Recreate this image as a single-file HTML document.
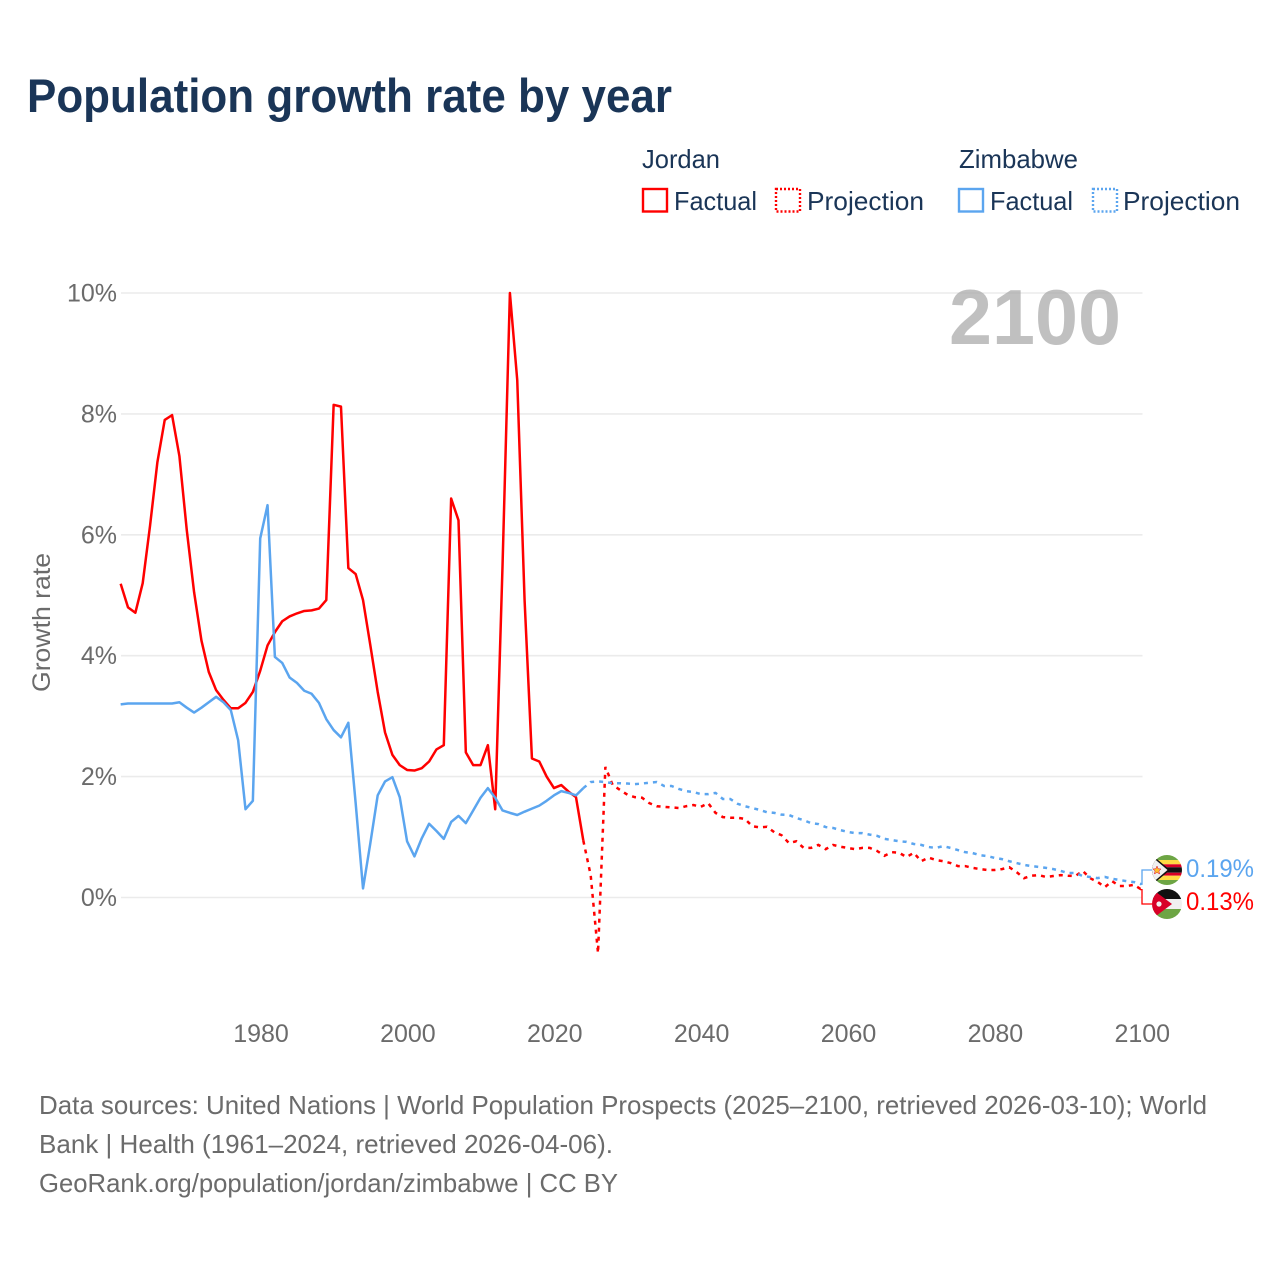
<!DOCTYPE html>
<html lang="en">
<head>
<meta charset="utf-8">
<title>Population growth rate by year</title>
<style>
  html, body { margin: 0; padding: 0; background: #ffffff; }
  #chart { display: block; width: 1280px; height: 1280px; font-family: "Liberation Sans", sans-serif; }
</style>
</head>
<body>
<svg id="chart" xmlns="http://www.w3.org/2000/svg" width="1280" height="1280" viewBox="0 0 1280 1280">
  <defs>
    <clipPath id="clip-zw"><circle cx="1167" cy="870" r="15"/></clipPath>
    <clipPath id="clip-jo"><circle cx="1167" cy="904" r="15"/></clipPath>
  </defs>
  <rect width="1280" height="1280" fill="#ffffff"/>

  <text x="27" y="112" font-size="47" font-weight="700" fill="#1a3557" textLength="645" lengthAdjust="spacingAndGlyphs">Population growth rate by year</text>

  <g font-size="26" fill="#1a3557">
    <text x="642" y="168" textLength="78" lengthAdjust="spacingAndGlyphs">Jordan</text>
    <text x="959" y="168" textLength="119" lengthAdjust="spacingAndGlyphs">Zimbabwe</text>
    <rect x="643" y="189" width="24" height="22.500" fill="none" stroke="#ff0000" stroke-width="2.400"/>
    <text x="674" y="210" textLength="83" lengthAdjust="spacingAndGlyphs">Factual</text>
    <rect x="776" y="189" width="24" height="22.500" fill="none" stroke="#ff0000" stroke-width="2.400" stroke-dasharray="2 2"/>
    <text x="807" y="210" textLength="117" lengthAdjust="spacingAndGlyphs">Projection</text>
    <rect x="959" y="189" width="24" height="22.500" fill="none" stroke="#5ba5ef" stroke-width="2.400"/>
    <text x="990" y="210" textLength="83" lengthAdjust="spacingAndGlyphs">Factual</text>
    <rect x="1093" y="189" width="24" height="22.500" fill="none" stroke="#5ba5ef" stroke-width="2.400" stroke-dasharray="2 2"/>
    <text x="1123" y="210" textLength="117" lengthAdjust="spacingAndGlyphs">Projection</text>
  </g>

  <g id="grid"></g>
  <text x="949" y="344" font-size="78" font-weight="700" fill="#a8a8a8" fill-opacity="0.72" textLength="172" lengthAdjust="spacingAndGlyphs">2100</text>
  <g id="y-ticks"></g>
  <g id="x-ticks"></g>
  <text transform="translate(50,692) rotate(-90)" font-size="25" fill="#6b6b6b" textLength="139" lengthAdjust="spacingAndGlyphs">Growth rate</text>

  <g id="series"></g>
  <g id="connectors"></g>

  <g clip-path="url(#clip-zw)">
    <rect x="1152" y="855" width="30" height="30" fill="#ffffff"/>
    <rect x="1152" y="855" width="30" height="5" fill="#6da544"/>
    <rect x="1152" y="860" width="30" height="4.300" fill="#ffda44"/>
    <rect x="1152" y="864.300" width="30" height="3" fill="#d80027"/>
    <rect x="1152" y="867.300" width="30" height="5.400" fill="#111111"/>
    <rect x="1152" y="872.700" width="30" height="3" fill="#d80027"/>
    <rect x="1152" y="875.700" width="30" height="4.300" fill="#ffda44"/>
    <rect x="1152" y="880" width="30" height="5" fill="#6da544"/>
    <polygon points="1152,855 1152,885 1170,870" fill="#111111"/>
    <polygon points="1150,855 1150,885 1167.500,870" fill="#f0f0f0"/>
    <polygon points="1157,866 1158.200,868.800 1161,869 1158.900,871 1159.600,874 1157,872.400 1154.400,874 1155.100,871 1153,869 1155.800,868.800" fill="#ffc02e" stroke="#d80027" stroke-width="0.500"/>
  </g>
  <g clip-path="url(#clip-jo)">
    <rect x="1152" y="889" width="30" height="10" fill="#111111"/>
    <rect x="1152" y="899" width="30" height="10" fill="#f0f0f0"/>
    <rect x="1152" y="909" width="30" height="10" fill="#6da544"/>
    <polygon points="1152,889 1152,919 1172,904" fill="#d80027"/>
    <circle cx="1159" cy="904" r="2.600" fill="#f0f0f0"/>
  </g>

  <g id="end-labels"></g>

  <g font-size="26" fill="#6b6b6b">
    <text x="39" y="1114" textLength="1168" lengthAdjust="spacingAndGlyphs">Data sources: United Nations | World Population Prospects (2025–2100, retrieved 2026-03-10); World</text>
    <text x="39" y="1153" textLength="574" lengthAdjust="spacingAndGlyphs">Bank | Health (1961–2024, retrieved 2026-04-06).</text>
    <text x="39" y="1192" textLength="579" lengthAdjust="spacingAndGlyphs">GeoRank.org/population/jordan/zimbabwe | CC BY</text>
  </g>
</svg>

<script>
const factualYears = [1961,1962,1963,1964,1965,1966,1967,1968,1969,1970,1971,1972,1973,1974,1975,1976,1977,1978,1979,1980,1981,1982,1983,1984,1985,1986,1987,1988,1989,1990,1991,1992,1993,1994,1995,1996,1997,1998,1999,2000,2001,2002,2003,2004,2005,2006,2007,2008,2009,2010,2011,2012,2013,2014,2015,2016,2017,2018,2019,2020,2021,2022,2023,2024];
const projectionYears = [2024,2025,2026,2027,2028,2029,2030,2031,2032,2033,2034,2035,2036,2037,2038,2039,2040,2041,2042,2043,2044,2045,2046,2047,2048,2049,2050,2051,2052,2053,2054,2055,2056,2057,2058,2059,2060,2061,2062,2063,2064,2065,2066,2067,2068,2069,2070,2071,2072,2073,2074,2075,2076,2077,2078,2079,2080,2081,2082,2083,2084,2085,2086,2087,2088,2089,2090,2091,2092,2093,2094,2095,2096,2097,2098,2099,2100];
const jordanFactual = [5.19,4.80,4.71,5.20,6.15,7.20,7.90,7.98,7.30,6.08,5.05,4.25,3.73,3.43,3.27,3.13,3.13,3.22,3.40,3.75,4.17,4.39,4.57,4.65,4.70,4.74,4.75,4.78,4.92,8.15,8.12,5.45,5.35,4.92,4.17,3.40,2.73,2.36,2.19,2.11,2.10,2.14,2.25,2.45,2.52,6.60,6.24,2.40,2.19,2.19,2.52,1.46,5.50,10.0,8.56,4.92,2.30,2.25,2.00,1.81,1.86,1.75,1.66,0.94];
const jordanProjection = [0.94,0.37,-0.92,2.16,1.86,1.78,1.70,1.66,1.65,1.56,1.51,1.50,1.49,1.48,1.51,1.53,1.50,1.56,1.40,1.33,1.32,1.32,1.30,1.18,1.16,1.17,1.08,1.03,0.90,0.93,0.82,0.82,0.87,0.80,0.87,0.84,0.82,0.80,0.82,0.82,0.77,0.69,0.75,0.74,0.67,0.74,0.60,0.66,0.62,0.60,0.57,0.52,0.52,0.49,0.47,0.455,0.455,0.47,0.50,0.42,0.32,0.36,0.37,0.34,0.355,0.37,0.36,0.355,0.44,0.32,0.26,0.17,0.27,0.19,0.19,0.21,0.13];
const zimbabweFactual = [3.195,3.21,3.21,3.21,3.21,3.21,3.21,3.21,3.23,3.14,3.06,3.14,3.23,3.32,3.23,3.10,2.60,1.46,1.60,5.94,6.49,3.98,3.88,3.64,3.55,3.42,3.37,3.22,2.95,2.77,2.65,2.89,1.56,0.15,0.90,1.69,1.92,1.99,1.66,0.93,0.68,0.98,1.22,1.10,0.97,1.25,1.35,1.23,1.44,1.65,1.81,1.65,1.44,1.40,1.365,1.42,1.47,1.52,1.60,1.69,1.76,1.73,1.69,1.81];
const zimbabweProjection = [1.81,1.91,1.92,1.91,1.89,1.89,1.885,1.875,1.885,1.90,1.91,1.845,1.845,1.795,1.76,1.745,1.71,1.71,1.73,1.63,1.63,1.55,1.51,1.48,1.45,1.41,1.40,1.37,1.365,1.315,1.28,1.23,1.215,1.165,1.15,1.115,1.085,1.065,1.065,1.04,1.02,0.97,0.95,0.93,0.92,0.885,0.87,0.835,0.82,0.85,0.82,0.785,0.75,0.735,0.70,0.685,0.655,0.635,0.60,0.57,0.54,0.52,0.505,0.49,0.47,0.44,0.405,0.405,0.355,0.34,0.32,0.34,0.31,0.29,0.27,0.255,0.22];
const xTickYears = [1980,2000,2020,2040,2060,2080,2100];
const yTickValues = [0,2,4,6,8,10];
const yTickLabels = ['0%','2%','4%','6%','8%','10%'];
const endLabelZimbabwe = '0.19%';
const endLabelJordan = '0.13%';

const SVG_NS = 'http://www.w3.org/2000/svg';
const RED = '#ff0000';
const BLUE = '#5ba5ef';
const X_YEAR_A = 1980, X_PX_A = 260.2, X_PX_PER_YEAR = 7.344;
const Y_ZERO_PX = 897.5, Y_PX_PER_UNIT = 60.45;
const GRID_LEFT = 121, GRID_RIGHT = 1142.5;
const TICK_LABEL_SHIFT = 0.8;

function xScale(year) { return X_PX_A + (year - X_YEAR_A) * X_PX_PER_YEAR; }
function yScale(value) { return Y_ZERO_PX - value * Y_PX_PER_UNIT; }
function make(tag, parentId) {
  const el = document.createElementNS(SVG_NS, tag);
  document.getElementById(parentId).appendChild(el);
  return el;
}

yTickValues.forEach(function (value, i) {
  const line = make('line', 'grid');
  
  
  line.setAttribute('x1', GRID_LEFT);
  line.setAttribute('x2', GRID_RIGHT);
  line.setAttribute('y1', yScale(value));
  line.setAttribute('y2', yScale(value));
  line.setAttribute('stroke', '#ebebeb');
  line.setAttribute('stroke-width', '1.6');

  const label = make('text', 'y-ticks');
  
  
  label.setAttribute('x', 117);
  label.setAttribute('y', yScale(value) + 8.5);
  label.setAttribute('text-anchor', 'end');
  label.setAttribute('font-size', '25');
  label.setAttribute('fill', '#6b6b6b');
  label.textContent = yTickLabels[i];
});

xTickYears.forEach(function (year) {
  const label = make('text', 'x-ticks');
  
  
  label.setAttribute('x', xScale(year) + TICK_LABEL_SHIFT);
  label.setAttribute('y', 1042);
  label.setAttribute('text-anchor', 'middle');
  label.setAttribute('font-size', '25');
  label.setAttribute('fill', '#6b6b6b');
  label.textContent = String(year);
});

function pathFor(years, values) {
  return values.map(function (v, i) {
    return (i ? 'L' : 'M') + xScale(years[i]).toFixed(2) + ' ' + yScale(v).toFixed(2);
  }).join(' ');
}

const jordanFactualLine = make('path', 'series');


jordanFactualLine.setAttribute('d', pathFor(factualYears, jordanFactual));
jordanFactualLine.setAttribute('fill', 'none');
jordanFactualLine.setAttribute('stroke', RED);
jordanFactualLine.setAttribute('stroke-width', '2.5');
jordanFactualLine.setAttribute('stroke-linejoin', 'round');

const jordanProjectionLine = make('path', 'series');


jordanProjectionLine.setAttribute('d', pathFor(projectionYears, jordanProjection));
jordanProjectionLine.setAttribute('fill', 'none');
jordanProjectionLine.setAttribute('stroke', RED);
jordanProjectionLine.setAttribute('stroke-width', '2.5');
jordanProjectionLine.setAttribute('stroke-dasharray', '4 5');

const zimbabweFactualLine = make('path', 'series');


zimbabweFactualLine.setAttribute('d', pathFor(factualYears, zimbabweFactual));
zimbabweFactualLine.setAttribute('fill', 'none');
zimbabweFactualLine.setAttribute('stroke', BLUE);
zimbabweFactualLine.setAttribute('stroke-width', '2.5');
zimbabweFactualLine.setAttribute('stroke-linejoin', 'round');

const zimbabweProjectionLine = make('path', 'series');


zimbabweProjectionLine.setAttribute('d', pathFor(projectionYears, zimbabweProjection));
zimbabweProjectionLine.setAttribute('fill', 'none');
zimbabweProjectionLine.setAttribute('stroke', BLUE);
zimbabweProjectionLine.setAttribute('stroke-width', '2.5');
zimbabweProjectionLine.setAttribute('stroke-dasharray', '4 5');

const connectorZimbabwe = make('path', 'connectors');


connectorZimbabwe.setAttribute('d', 'M1140 ' + yScale(zimbabweProjection[zimbabweProjection.length - 1]).toFixed(1) + ' H1142 V870 H1152');
connectorZimbabwe.setAttribute('fill', 'none');
connectorZimbabwe.setAttribute('stroke', BLUE);
connectorZimbabwe.setAttribute('stroke-width', '1.3');

const connectorJordan = make('path', 'connectors');


connectorJordan.setAttribute('d', 'M1140 ' + yScale(jordanProjection[jordanProjection.length - 1]).toFixed(1) + ' H1142 V904 H1152');
connectorJordan.setAttribute('fill', 'none');
connectorJordan.setAttribute('stroke', RED);
connectorJordan.setAttribute('stroke-width', '1.3');

const labelZimbabwe = make('text', 'end-labels');


labelZimbabwe.setAttribute('x', 1186);
labelZimbabwe.setAttribute('y', 877);
labelZimbabwe.setAttribute('font-size', '25');
labelZimbabwe.setAttribute('fill', BLUE);
labelZimbabwe.setAttribute('textLength', '68');
labelZimbabwe.setAttribute('lengthAdjust', 'spacingAndGlyphs');
labelZimbabwe.textContent = endLabelZimbabwe;

const labelJordan = make('text', 'end-labels');


labelJordan.setAttribute('x', 1186);
labelJordan.setAttribute('y', 910);
labelJordan.setAttribute('font-size', '25');
labelJordan.setAttribute('fill', RED);
labelJordan.setAttribute('textLength', '68');
labelJordan.setAttribute('lengthAdjust', 'spacingAndGlyphs');
labelJordan.textContent = endLabelJordan;
</script>
</body>
</html>
